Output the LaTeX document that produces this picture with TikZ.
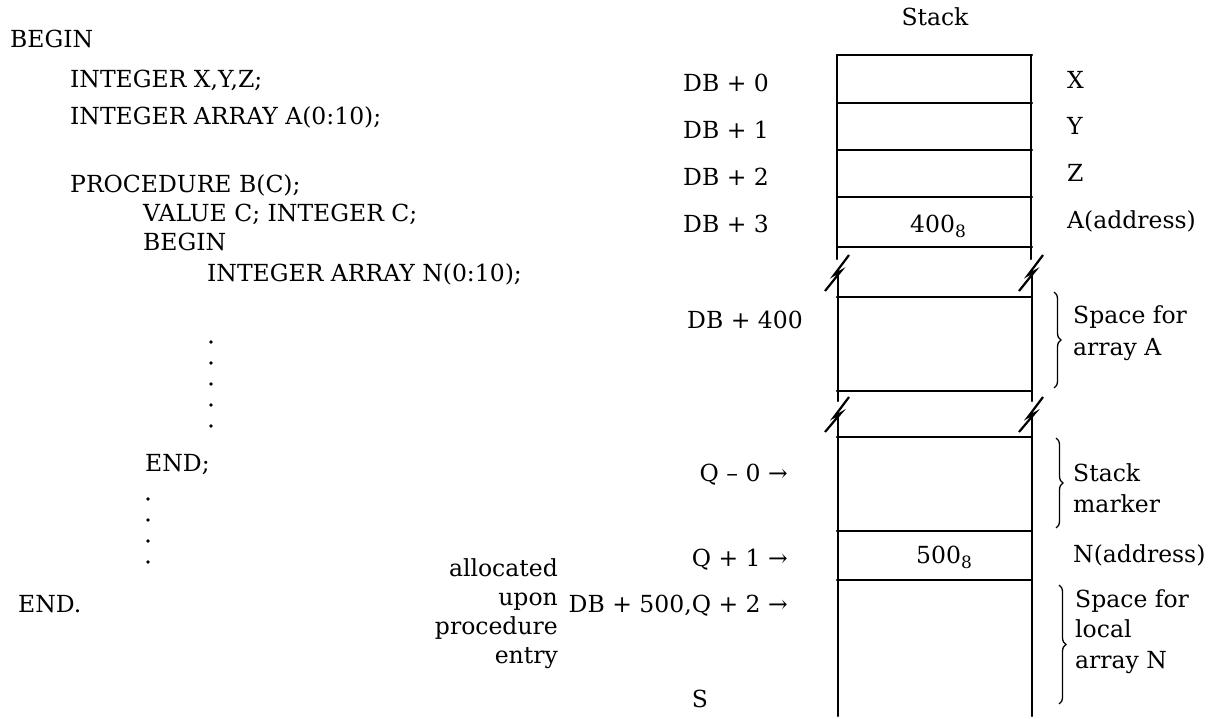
\documentclass[tikz,border=0pt]{standalone}
\usepackage{fontspec}
\setmainfont{DejaVu Serif}
\usepackage{tikz}
\usetikzlibrary{decorations.pathreplacing}
\newcommand{\octsub}[1]{\raisebox{-5pt}{\fontsize{17}{17}\selectfont #1}}
\begin{document}
\begin{tikzpicture}[x=1pt,y=-1pt,
  font=\fontsize{23.5}{28}\selectfont,
  code/.style={anchor=base west, inner sep=0pt},
  lab/.style={anchor=base west, inner sep=0pt},
  rlab/.style={anchor=base east, inner sep=0pt},
  clab/.style={anchor=base, inner sep=0pt},
  wall/.style={line width=2.4pt, line cap=round},
  bolt/.style={line width=2.2pt, line join=miter},
  curly/.style={decorate, decoration={brace, amplitude=7pt}, line width=1.3pt},
  dotmark/.style={fill=black}]
\useasboundingbox (0,0) rectangle (1217,719);

% ---------------- program text ----------------
\node[code] (b1) at (10,48) {BEGIN};
\node[code] (l1) at (70,88) {INTEGER X,Y,Z;};
\node[code] (l2) at (70,125) {INTEGER ARRAY A(0:10);};
\node[code] (l3) at (70,193) {PROCEDURE B(C);};
\node[code] (l4) at (143,222) {VALUE C; INTEGER C;};
\node[code] (l5) at (143,251) {BEGIN};
\node[code] (l6) at (207,281) {INTEGER ARRAY N(0:10);};
\foreach \yy in {342,363,384,405,426} \fill[dotmark] (211,\yy) circle (1.8);
\node[code] (l7) at (145,471) {END;};
\foreach \yy in {499,520,541,562} \fill[dotmark] (148,\yy) circle (1.8);
\node[code] (l8) at (18,612) {END.};

\node[rlab] (al1) at (558,576) {allocated};
\node[rlab] (al2) at (558,605) {upon};
\node[rlab] (al3) at (558,634) {procedure};
\node[rlab] (al4) at (558,663) {entry};

% ---------------- stack ----------------
\node[clab] (title) at (935,26) {Stack};

\def\WL{837}
\def\WR{1031}
% walls with breaks
\foreach \W in {\WL,\WR}{
  \draw[wall] (\W,55) -- (\W,259);
  \draw[bolt] (\W+12,255) -- (\W-3,275) -- (\W+4,271) -- (\W-12,291);
  \draw[wall] (\W+1,273) -- (\W+1,401);
  \draw[bolt] (\W+12,397) -- (\W-3,417) -- (\W+4,413) -- (\W-12,432);
  \draw[wall] (\W+1,415) -- (\W+1,716);
}
% cell boundaries
\foreach \yy in {55,103,150,197,247,297,391,437,531,580}
  \draw[wall] (\WL,\yy) -- (\WR+1,\yy);

\node[clab] (v400) at (938,233) {400\octsub{8}};
\node[clab] (v500) at (944,563) {500\octsub{8}};

% addresses on the left
\node[lab] (d0) at (683,92) {DB + 0};
\node[lab] (d1) at (683,139) {DB + 1};
\node[lab] (d2) at (683,186) {DB + 2};
\node[lab] (d3) at (683,233) {DB + 3};
\node[lab] (d400) at (687,328) {DB + 400};
\node[rlab] (q0) at (788,481) {Q – 0 →};
\node[rlab] (q1) at (788,566) {Q + 1 →};
\node[rlab] (q2) at (788,612) {DB + 500,Q + 2 →};
\node[clab] (s) at (700,707) {S};

% contents on the right
\node[lab] (nx) at (1067,89) {X};
\node[lab] (ny) at (1067,135) {Y};
\node[lab] (nz) at (1067,182) {Z};
\node[lab] (na) at (1067,229) {A(address)};

\draw[curly] (1054,292) -- (1054,388);
\node[lab] (sa1) at (1073,323) {Space for};
\node[lab] (sa2) at (1073,355) {array A};

\draw[curly] (1056,438) -- (1056,528);
\node[lab] (sm1) at (1073,481) {Stack};
\node[lab] (sm2) at (1073,512) {marker};

\node[lab] (nn) at (1073,562) {N(address)};

\draw[curly] (1059,585) -- (1059,704);
\node[lab] (sn1) at (1075,607) {Space for};
\node[lab] (sn2) at (1075,637) {local};
\node[lab] (sn3) at (1075,668) {array N};
\end{tikzpicture}
\end{document}
